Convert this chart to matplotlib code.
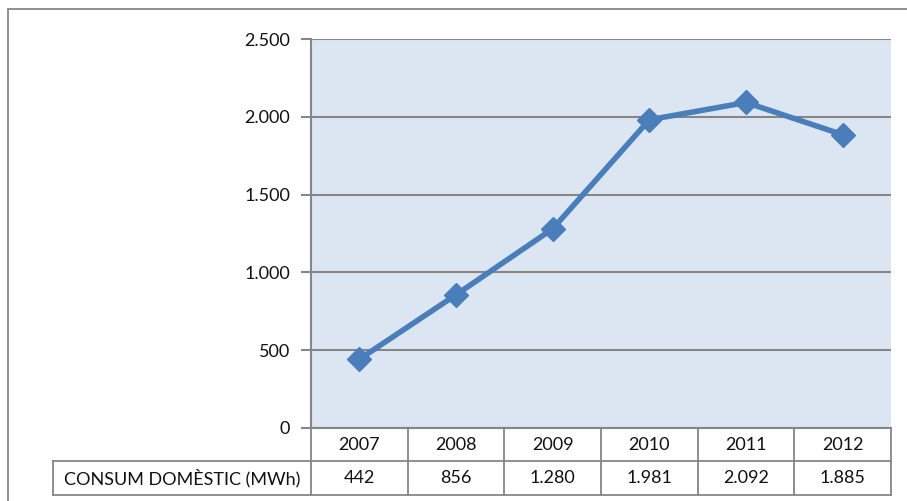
import matplotlib
matplotlib.use("Agg")
import matplotlib.pyplot as plt
from matplotlib.lines import Line2D
from matplotlib.patches import Rectangle
import matplotlib.transforms as mtransforms

years = ["2007", "2008", "2009", "2010", "2011", "2012"]
consum = [442, 856, 1280, 1981, 2092, 1885]
consum_labels = ["442", "856", "1.280", "1.981", "2.092", "1.885"]
yticks = [0, 500, 1000, 1500, 2000, 2500]
ytick_labels = ["0", "500", "1.000", "1.500", "2.000", "2.500"]
series_name = "CONSUM DOMÈSTIC (MWh)"

W, H = 907, 501
fig = plt.figure(figsize=(W / 100, H / 100), dpi=100)
plt.rcParams['font.family'] = ['Lato', 'DejaVu Sans']

grey = "#868686"
blue = "#4A7EBB"
fs = 13

# outer border
fig.patches.append(Rectangle((8 / W, -0.01), (W - 7) / W, 1 - 9 / H + 0.01,
                             transform=fig.transFigure, fill=False,
                             edgecolor=grey, linewidth=1.3))

left, right, top, bottom = 311, 891, 39, 428
ax = fig.add_axes([left / W, 1 - bottom / H, (right - left) / W, (bottom - top) / H])
ax.set_facecolor("#DCE6F2")
n = len(years)
xs = [i + 0.5 for i in range(n)]
ax.set_xlim(0, n)
ax.set_ylim(0, 2500)
ax.set_yticks(yticks)
ax.set_yticklabels(ytick_labels, fontsize=fs)
ax.set_xticks([])
ax.yaxis.grid(True, color=grey, linewidth=1.5)
ax.set_axisbelow(True)
for s in ["top", "right"]:
    ax.spines[s].set_visible(False)
for s in ["left", "bottom"]:
    ax.spines[s].set_color(grey)
    ax.spines[s].set_linewidth(1.5)
ax.tick_params(axis="y", length=7, width=1.5, color=grey, pad=8, labelcolor="#111111")

ax.plot(xs, consum, color=blue, linewidth=4.0, marker="D", markersize=12.5,
        markerfacecolor=blue, markeredgecolor=blue, solid_joinstyle="miter", zorder=5)

# data table below axes
trans = mtransforms.blended_transform_factory(ax.transData, fig.transFigure)
ftrans = fig.transFigure
row1_top, row1_bot, row2_bot = 428, 461, 495
def fy(p):
    return 1 - p / H

lw = 1.3
fig.lines.append(Line2D([left / W, right / W], [fy(row1_bot)] * 2, transform=ftrans, color=grey, lw=lw))
fig.lines.append(Line2D([53 / W, right / W], [fy(row2_bot)] * 2, transform=ftrans, color=grey, lw=lw))
fig.lines.append(Line2D([53 / W, left / W], [fy(row1_bot)] * 2, transform=ftrans, color=grey, lw=lw))
fig.lines.append(Line2D([53 / W, 53 / W], [fy(row1_bot), fy(row2_bot)], transform=ftrans, color=grey, lw=lw))
for i in range(n + 1):
    ax.add_line(Line2D([i, i], [fy(row1_top), fy(row2_bot)], transform=trans,
                       color=grey, lw=lw, clip_on=False))
for i in range(n):
    ax.text(xs[i], fy((row1_top + row1_bot) / 2), years[i], transform=trans,
            ha="center", va="center", fontsize=fs, color="#111111", clip_on=False)
    ax.text(xs[i], fy((row1_bot + row2_bot) / 2), consum_labels[i], transform=trans,
            ha="center", va="center", fontsize=fs, color="#111111", clip_on=False)
fig.text((53 + left) / 2 / W, fy((row1_bot + row2_bot) / 2), series_name,
         ha="center", va="center", fontsize=fs, color="#111111")

fig.savefig("out.png", dpi=100)
